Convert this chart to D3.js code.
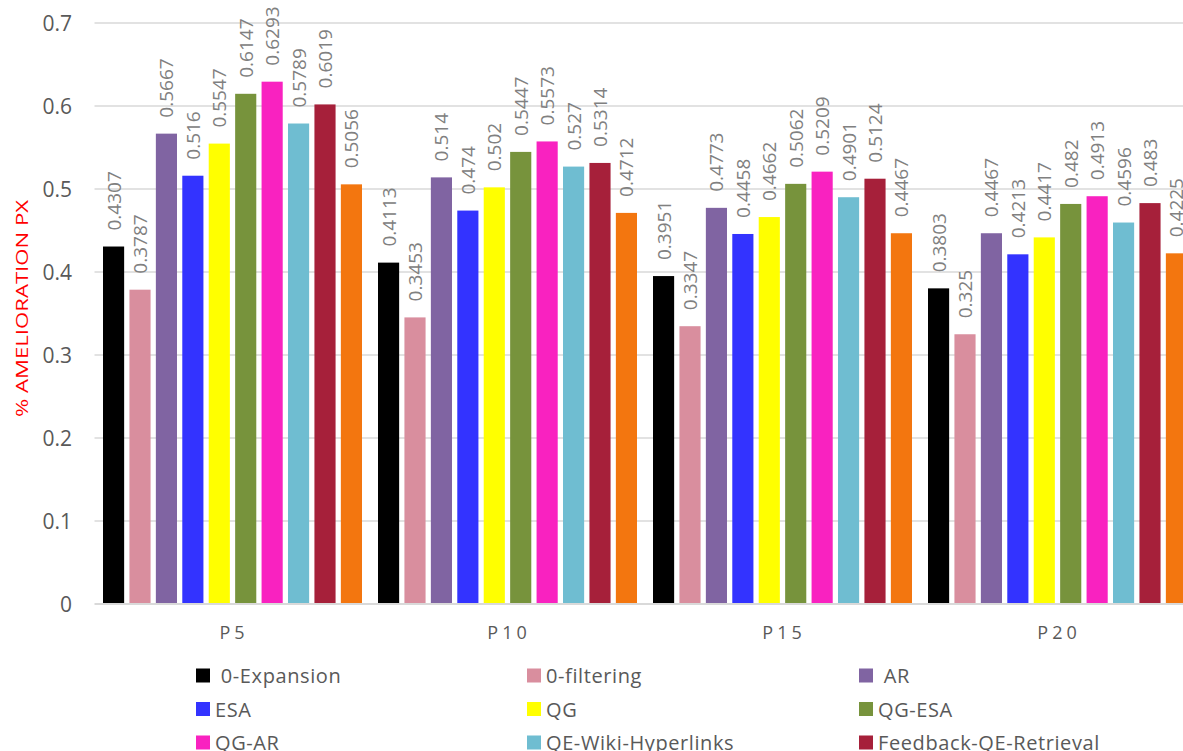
<!DOCTYPE html>
<html>
<head>
<meta charset="utf-8">
<script src="https://cdn.jsdelivr.net/npm/d3@7"></script>
<style>
  html, body { margin: 0; padding: 0; background: #fff; overflow: hidden; }
  svg { display: block; font-family: "Open Sans", "Liberation Sans", sans-serif; }
  text { white-space: pre; }
</style>
</head>
<body>
<svg id="chart" width="1183" height="751"></svg>
<script>
// ---- data ----
const categories = ["P5", "P10", "P15", "P20"];
const seriesNames = [" 0-Expansion", "0-filtering", " AR", "ESA", "QG", "QG-ESA", "QG-AR", "QE-Wiki-Hyperlinks", "Feedback-QE-Retrieval", ""];
const seriesColors = ["#000000", "#d98e9e", "#8064a2", "#3333ff", "#ffff00", "#77933c", "#f922c0", "#6fbdd1", "#a6203a", "#f3760f"];
const valuesP5  = [0.4307, 0.3787, 0.5667, 0.516,  0.5547, 0.6147, 0.6293, 0.5789, 0.6019, 0.5056];
const valuesP10 = [0.4113, 0.3453, 0.514,  0.474,  0.502,  0.5447, 0.5573, 0.527,  0.5314, 0.4712];
const valuesP15 = [0.3951, 0.3347, 0.4773, 0.4458, 0.4662, 0.5062, 0.5209, 0.4901, 0.5124, 0.4467];
const valuesP20 = [0.3803, 0.325,  0.4467, 0.4213, 0.4417, 0.482,  0.4913, 0.4596, 0.483,  0.4225];
const yTicks = [0, 0.1, 0.2, 0.3, 0.4, 0.5, 0.6, 0.7];
const yTitle = "% AMELIORATION PX";

const valuesByCategory = [valuesP5, valuesP10, valuesP15, valuesP20];
const rows = categories.map((c, i) => ({ cat: c, vals: valuesByCategory[i] }));

// ---- layout ----
const svg = d3.select("#chart");
const plotLeft = 94.5, plotRight = 1194.5, plotTop = 23, plotBottom = 604;

const x0 = d3.scaleBand().domain(categories).range([plotLeft, plotRight]).padding(0);
const x1 = d3.scaleBand().domain(d3.range(seriesNames.length))
  .range([8.5, x0.bandwidth() - 7.5]).paddingInner(0.2).paddingOuter(0);
const y = d3.scaleLinear().domain([0, 0.7]).range([plotBottom, plotTop]);

// gridlines
svg.append("g").selectAll("line").data(yTicks.filter(t => t > 0)).join("line")
  .attr("x1", plotLeft).attr("x2", plotRight)
  .attr("y1", d => y(d)).attr("y2", d => y(d))
  .attr("stroke", "#d9d9d9").attr("stroke-width", 1.3);

// y axis labels
const yAxis = d3.axisLeft(y).tickValues(yTicks).tickSize(0).tickPadding(0)
  .tickFormat(d => d === 0 ? "0" : d3.format(".1f")(d));
const gy = svg.append("g").attr("transform", "translate(72,0)").call(yAxis);
gy.select(".domain").remove();
gy.selectAll("text").attr("fill", "#595959").attr("font-size", 21)
  .attr("font-family", "'Open Sans', sans-serif").attr("dy", "0.35em").attr("x", 0);

// bars
const groups = svg.append("g").selectAll("g").data(rows).join("g")
  .attr("transform", d => `translate(${x0(d.cat)},0)`);

groups.selectAll("rect").data(d => d.vals.map((v, i) => ({ v, i }))).join("rect")
  .attr("x", d => x1(d.i)).attr("width", x1.bandwidth())
  .attr("y", d => y(d.v)).attr("height", d => y(0) - y(d.v))
  .attr("fill", d => seriesColors[d.i]);

// value labels
groups.selectAll("text").data(d => d.vals.map((v, i) => ({ v, i }))).join("text")
  .attr("transform", d => `translate(${x1(d.i) + x1.bandwidth() / 2},${y(d.v) - 16}) rotate(-90)`)
  .attr("dominant-baseline", "central")
  .attr("text-anchor", "start")
  .attr("fill", "#808080").attr("font-size", 19)
  .text(d => String(d.v));

// x axis line
svg.append("line").attr("x1", plotLeft).attr("x2", plotRight)
  .attr("y1", plotBottom).attr("y2", plotBottom)
  .attr("stroke", "#d9d9d9").attr("stroke-width", 2);

// x axis labels
const xAxis = d3.axisBottom(x0).tickSize(0).tickPadding(0);
const gx = svg.append("g").attr("transform", `translate(0,${plotBottom})`).call(xAxis);
gx.select(".domain").remove();
gx.selectAll("text").attr("fill", "#595959").attr("font-size", 18)
  .attr("font-family", "'Open Sans', sans-serif")
  .attr("y", 35).attr("dy", 0).attr("letter-spacing", 4)
  .attr("dx", 2);

// y title
svg.append("text")
  .attr("transform", `translate(21,308.5) rotate(-90)`)
  .attr("text-anchor", "middle").attr("dominant-baseline", "central")
  .attr("fill", "#ff0000").attr("font-size", 17)
  .attr("textLength", 217).attr("lengthAdjust", "spacingAndGlyphs")
  .text(yTitle);

// legend
const legendCols = [196, 527, 859];
const legendRowY = 675.5, legendRowStep = 33.5;
const leg = svg.append("g").selectAll("g").data(seriesNames.map((n, i) => ({ n, i }))).join("g")
  .attr("transform", d => `translate(${legendCols[d.i % 3]},${legendRowY + Math.floor(d.i / 3) * legendRowStep})`);
leg.append("rect").attr("x", 0).attr("y", -7).attr("width", 14).attr("height", 14)
  .attr("fill", d => seriesColors[d.i]);
leg.append("text").attr("x", 19).attr("dominant-baseline", "central")
  .attr("fill", "#595959").attr("font-size", 20).attr("letter-spacing", 0.6)
  .text(d => d.n);
</script>
</body>
</html>
